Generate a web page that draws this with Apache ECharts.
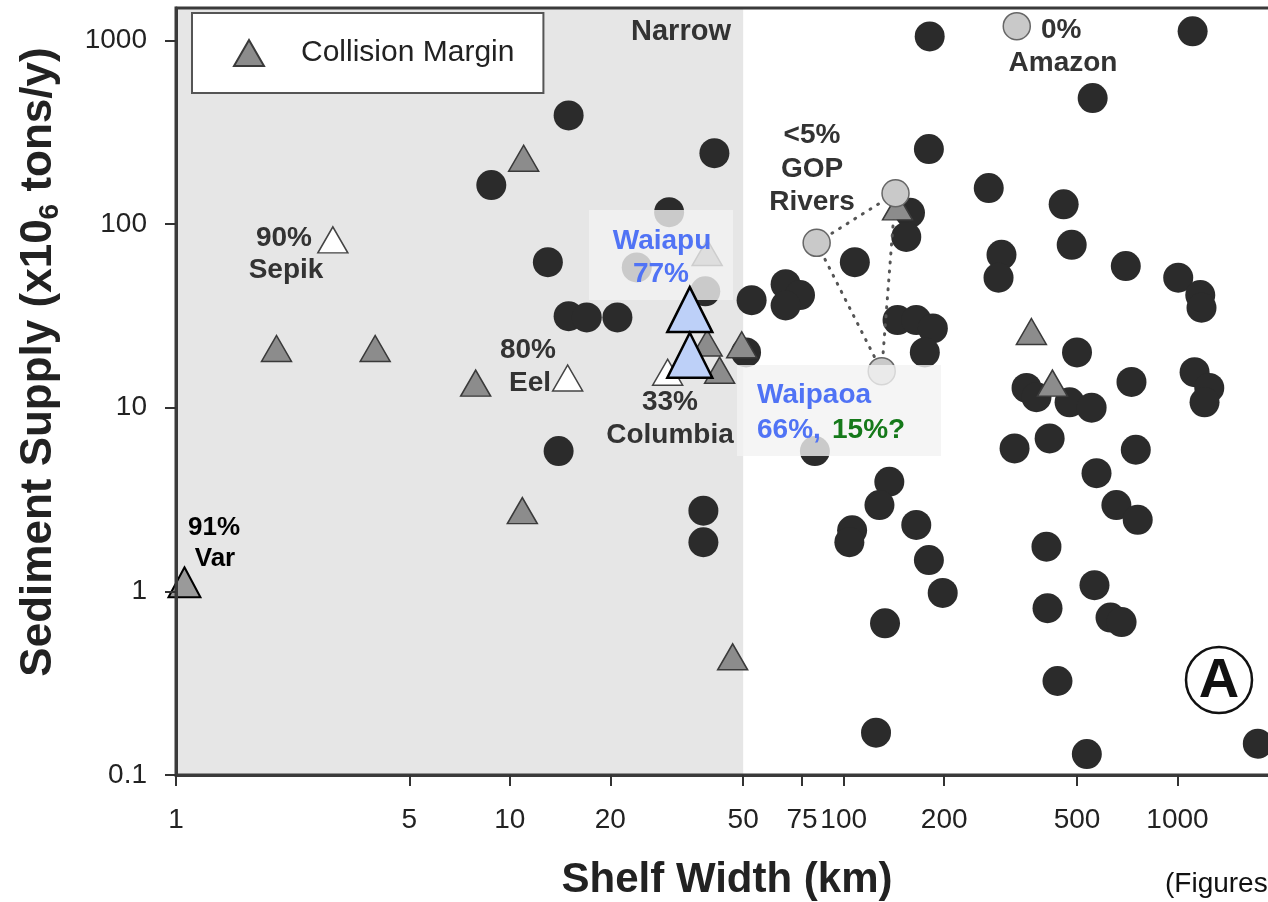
<!DOCTYPE html>
<html>
<head>
<meta charset="utf-8">
<title>Sediment supply vs shelf width</title>
<script src="https://cdn.jsdelivr.net/npm/echarts@6.0.0/dist/echarts.min.js"></script>
<style>
  html, body { margin: 0; padding: 0; background: #fff; }
  #chart { width: 1268px; height: 902px; }
</style>
</head>
<body>
<div id="chart"></div>
<script>
// --- data (shelf width km, sediment supply 10^6 t/y) ---
// shelves of other margins (black dots)
const shelfWidth = [15, 8.8, 41, 30, 13, 15, 17, 21, 14, 38, 38, 53, 67, 74, 67, 51, 108, 82,
  181, 1110, 557, 180, 272, 456, 297, 291, 482, 700, 1005, 1170, 1180, 158, 154, 145, 165,
  185, 175, 500, 728, 1125, 1245, 1205, 353, 378, 475, 553, 325, 414, 750, 572, 656, 760,
  405, 564, 408, 137, 128, 106, 104, 165, 180, 198, 133, 630, 680, 437, 125, 535, 1740, 24, 38.5];
const shelfSupply = [390, 163, 243, 116, 62, 31.5, 31, 31, 5.8, 2.75, 1.85, 38.5, 47, 41, 36, 20, 62, 5.8,
  1050, 1120, 485, 256, 157, 128, 68, 51, 77, 59, 51, 41, 35, 115, 85, 30, 30,
  27, 20, 20, 13.8, 15.6, 12.8, 10.7, 12.8, 11.4, 10.7, 10, 6, 6.8, 5.9, 4.4, 2.95, 2.45,
  1.75, 1.08, 0.81, 3.95, 2.95, 2.15, 1.85, 2.3, 1.48, 0.98, 0.67, 0.72, 0.68, 0.325, 0.17, 0.13, 0.148, 58, 43];

// collision margins (grey triangles)
const collisionName = ['', '', '', '', '', 'Var', '', '', '', '', '', '', '', ''];
const collisionWidth = [11, 2, 3.95, 7.9, 10.9, 1.06, 46.5, 39, 39, 49.5, 42.5, 365, 422, 145];
const collisionSupply = [228, 21, 21, 13.6, 2.75, 1.12, 0.44, 70, 22.5, 22, 16, 26, 13.6, 124];

// labelled rivers (open triangles)
const riverName = ['Sepik', 'Eel', 'Columbia'];
const riverWidth = [2.95, 14.9, 29.7];
const riverSupply = [82, 14.5, 15.6];

// passive margin rivers (light dots)
const amazonWidth = [330];
const amazonSupply = [1194];
const gopWidth = [83, 143, 130];
const gopSupply = [79, 147, 15.8];

// New Zealand study rivers (blue triangles)
const nzName = ['Waiapu', 'Waipaoa'];
const nzWidth = [34.6, 34.6];
const nzSupply = [34.2, 19.3];

const xTicks = [1, 5, 10, 20, 50, 75, 100, 200, 500, 1000];
const yTicks = [0.1, 1, 10, 100, 1000];
const xRange = [1, 2000];
const yRange = [0.1, 1500];
const narrowLimit = 50;

const FONT = '"Liberation Sans", Arial, Helvetica, sans-serif';
const BLUE = '#5073f5';
const GREEN = '#15791a';

const lg = Math.log10;
const pts = function(xs, ys) {
  return xs.map(function(x, i) { return [lg(x), lg(ys[i])]; });
};
const fmt = function(v) {
  var n = Math.pow(10, v);
  return n < 1 ? n.toFixed(1) : String(Math.round(n));
};

// plain text annotation
const note = function(text, x, y, o) {
  o = o || {};
  return {
    type: 'text', x: x, y: y, z: 100, silent: true,
    style: {
      text: text,
      fill: o.color || '#333',
      font: (o.weight || 'bold') + ' ' + (o.size || 28) + 'px ' + FONT,
      align: o.align || 'center', textAlign: o.align || 'center',
      verticalAlign: 'middle', textVerticalAlign: 'middle'
    }
  };
};

var chartDom = document.getElementById('chart');
var myChart = echarts.init(chartDom, null, { renderer: 'canvas' });
var option;

const collisionData = collisionWidth.map(function(x, i) {
  var d = { value: [lg(x), lg(collisionSupply[i])], name: collisionName[i] };
  if (collisionName[i] === 'Var') {
    d.symbolSize = [32, 30];
    d.itemStyle = { color: '#9a9a9a', borderColor: '#000', borderWidth: 2 };
  }
  return d;
});

const gopLoop = [0, 1, 2, 0].map(function(i) { return [lg(gopWidth[i]), lg(gopSupply[i])]; });

option = {
  animation: false,
  backgroundColor: '#fff',
  textStyle: { fontFamily: FONT },
  grid: {
    left: 176, top: 8, right: -10, bottom: 127,
    show: true, borderColor: '#3a3a3a', borderWidth: 3, z: 20,
    containLabel: false, outerBoundsMode: 'none'
  },
  legend: {
    data: ['Collision Margin'],
    left: 192, top: 13,
    padding: [25, 29, 25, 41],
    itemWidth: 30, itemHeight: 26,
    backgroundColor: '#fff', borderColor: '#555', borderWidth: 2,
    selectedMode: false,
    textStyle: { fontSize: 30, color: '#222', fontFamily: FONT, padding: [0, 0, 0, 32] }
  },
  xAxis: {
    type: 'value', min: lg(xRange[0]), max: lg(xRange[1]), z: 20,
    name: 'Shelf Width (km)', nameLocation: 'middle', nameGap: 84,
    nameTextStyle: { fontSize: 42, fontWeight: 'bold', color: '#222', fontFamily: FONT },
    axisLine: { onZero: false, lineStyle: { color: '#3a3a3a', width: 3 } },
    axisTick: { show: true, length: 11, lineStyle: { color: '#333', width: 2 }, customValues: xTicks.map(lg) },
    axisLabel: { fontSize: 28, color: '#222', margin: 31, formatter: fmt, customValues: xTicks.map(lg) },
    splitLine: { show: false }
  },
  yAxis: {
    type: 'value', min: lg(yRange[0]), max: lg(yRange[1]), z: 20,
    name: '{t|Sediment Supply (x10}{s|6}{t| tons/y)}',
    nameLocation: 'middle', nameRotate: 90, nameGap: 112,
    nameTextStyle: {
      padding: [0, 0, 0, 59],
      rich: {
        t: { fontSize: 44, fontWeight: 'bold', color: '#222', fontFamily: FONT, lineHeight: 50 },
        s: { fontSize: 28, fontWeight: 'bold', color: '#222', fontFamily: FONT, lineHeight: 28, verticalAlign: 'bottom' }
      }
    },
    axisLine: { onZero: false, lineStyle: { color: '#3a3a3a', width: 3 } },
    axisTick: { show: true, length: 11, lineStyle: { color: '#333', width: 2 }, customValues: yTicks.map(lg) },
    axisLabel: { fontSize: 28, color: '#222', margin: 29, formatter: fmt, customValues: yTicks.map(lg) },
    splitLine: { show: false }
  },
  series: [
    {
      // grey "narrow shelf" band
      name: 'Narrow', type: 'scatter', data: [], z: 1, silent: true,
      markArea: {
        silent: true,
        itemStyle: { color: '#e6e6e6' },
        data: [[{ coord: [lg(xRange[0]), lg(yRange[0])] }, { coord: [lg(narrowLimit), lg(yRange[1])] }]]
      }
    },
    {
      name: 'Other margins', type: 'scatter', z: 2,
      symbol: 'circle', symbolSize: 30,
      itemStyle: { color: '#2b2b2b', opacity: 1 },
      data: pts(shelfWidth, shelfSupply)
    },
    {
      name: 'Collision Margin', type: 'scatter', z: 3,
      symbol: 'triangle', symbolSize: [30, 26],
      itemStyle: { color: '#8c8c8c', borderColor: '#3a3a3a', borderWidth: 1.5, opacity: 1 },
      data: collisionData
    },
    {
      name: 'Labelled rivers', type: 'scatter', z: 3,
      symbol: 'triangle', symbolSize: [30, 26],
      itemStyle: { color: '#fff', borderColor: '#444', borderWidth: 1.5, opacity: 1 },
      data: pts(riverWidth, riverSupply).map(function(v, i) { return { name: riverName[i], value: v }; })
    },
    {
      name: 'GOP link', type: 'line', z: 3, silent: true,
      symbol: 'none',
      lineStyle: { color: '#555', width: 3, type: [1, 8], cap: 'round' },
      data: gopLoop
    },
    {
      name: 'Passive margin rivers', type: 'scatter', z: 4,
      symbol: 'circle', symbolSize: 27,
      itemStyle: { color: '#c9c9c9', borderColor: '#666', borderWidth: 1.5, opacity: 1 },
      data: pts(amazonWidth, amazonSupply).concat(pts(gopWidth, gopSupply))
    },
    {
      name: 'NZ rivers', type: 'scatter', z: 60,
      symbol: 'triangle', symbolSize: [45, 45],
      itemStyle: { color: '#bdd0f8', borderColor: '#000', borderWidth: 2.5, opacity: 1 },
      data: pts(nzWidth, nzSupply).map(function(v, i) { return { name: nzName[i], value: v }; })
    }
  ],
  graphic: {
    elements: [
      { type: 'rect', z: 50, silent: true, shape: { x: 589, y: 210, width: 144, height: 90 },
        style: { fill: 'rgba(242,242,242,0.8)' } },
      { type: 'rect', z: 50, silent: true, shape: { x: 737, y: 365, width: 204, height: 91 },
        style: { fill: 'rgba(242,242,242,0.8)' } },
      note('Narrow', 681, 32, { size: 29 }),
      note('0%', 1041, 30, { align: 'left' }),
      note('Amazon', 1063, 63),
      note('<5%', 812, 135),
      note('GOP', 812, 169),
      note('Rivers', 812, 202),
      note('90%', 284, 238),
      note('Sepik', 286, 270),
      note('80%', 528, 350),
      note('Eel', 551, 383, { align: 'right' }),
      note('33%', 670, 402),
      note('Columbia', 670, 435),
      note('91%', 214, 528, { color: '#000', size: 26 }),
      note('Var', 215, 559, { color: '#000', size: 26 }),
      note('Waiapu', 662, 241, { color: BLUE }),
      note('77%', 661, 274, { color: BLUE }),
      note('Waipaoa', 757, 395, { color: BLUE, align: 'left' }),
      note('66%,', 757, 430, { color: BLUE, align: 'left' }),
      note('15%?', 832, 430, { color: GREEN, align: 'left' }),
      { type: 'circle', z: 100, silent: true, shape: { cx: 1219, cy: 680, r: 33 },
        style: { fill: 'rgba(0,0,0,0)', stroke: '#111', lineWidth: 2.5 } },
      note('A', 1219, 682, { color: '#111', size: 56 }),
      note('(Figures', 1165, 884, { color: '#111', weight: 'normal', align: 'left' })
    ]
  }
};

option && myChart.setOption(option);
</script>
</body>
</html>
